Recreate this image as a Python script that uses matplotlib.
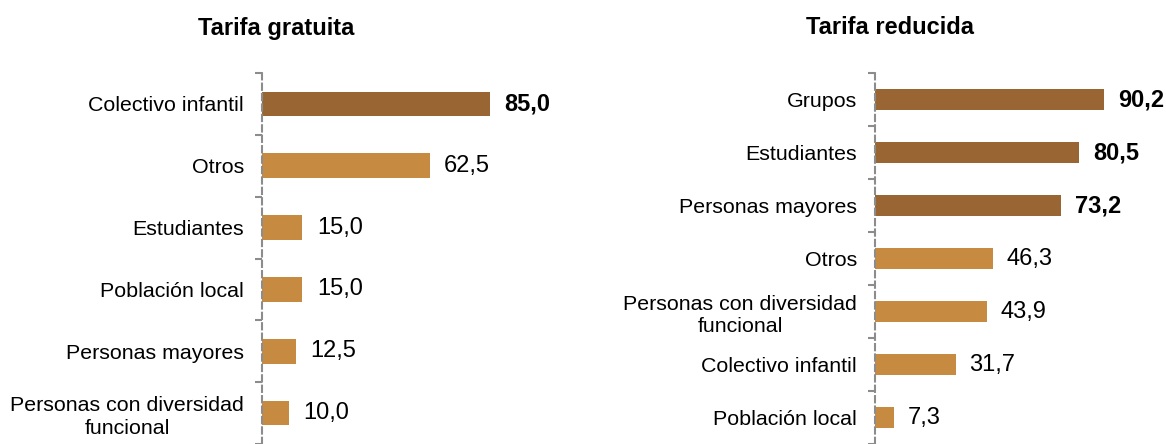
import matplotlib
matplotlib.use("Agg")
import matplotlib.pyplot as plt
import numpy as np

plt.rcParams['font.family'] = ['Liberation Sans', 'DejaVu Sans']

left_title = "Tarifa gratuita"
left_cats = ["Colectivo infantil", "Otros", "Estudiantes", "Población local",
             "Personas mayores", "Personas con diversidad\nfuncional"]
left_vals = [85.0, 62.5, 15.0, 15.0, 12.5, 10.0]
left_highlight = [True, False, False, False, False, False]

right_title = "Tarifa reducida"
right_cats = ["Grupos", "Estudiantes", "Personas mayores", "Otros",
              "Personas con diversidad\nfuncional", "Colectivo infantil", "Población local"]
right_vals = [90.2, 80.5, 73.2, 46.3, 43.9, 31.7, 7.3]
right_highlight = [True, True, True, False, False, False, False]

DARK = "#996633"
LIGHT = "#C68B41"
GREY = "#8C8C8C"

W, H = 1166, 444
fig = plt.figure(figsize=(W / 100, H / 100), dpi=100)


def panel(rect, title, cats, vals, hl, title_x):
    ax = fig.add_axes(rect)
    n = len(cats)
    y = np.arange(n)
    colors = [DARK if h else LIGHT for h in hl]
    ax.barh(y, vals, height=0.4, color=colors)
    ax.set_xlim(0, 100)
    ax.set_ylim(n - 0.5, -0.5)
    for yi, v, h in zip(y, vals, hl):
        ax.text(v + 5.5, yi, f"{v:.1f}".replace(".", ","), va="center", ha="left",
                fontsize=17, fontweight="bold" if h else "normal", color="black")
    for s in ["top", "right", "bottom"]:
        ax.spines[s].set_visible(False)
    ax.spines["left"].set_color(GREY)
    ax.spines["left"].set_linewidth(1.5)
    ax.spines["left"].set_linestyle((0, (3, 2)))
    ax.set_xticks([])
    ax.set_yticks(np.arange(n + 1) - 0.5)
    ax.set_yticklabels([])
    ax.tick_params(axis="y", which="major", length=5, width=1.5, color=GREY)
    ax.set_yticks(y, minor=True)
    ax.set_yticklabels(cats, minor=True, fontsize=15.4)
    ax.tick_params(axis="y", which="minor", length=0, pad=13)
    for lab in ax.get_yticklabels(minor=True):
        lab.set_horizontalalignment("right")
        lab.set_multialignment("center")
        lab.set_linespacing(1.25)
    ax.patch.set_alpha(0)
    fig.text(title_x / W, 1 - 28 / H, title, ha="center", va="center",
             fontsize=17, fontweight="bold")
    return ax


top = 1 - 73 / H
panel([262 / W, 0, 268 / W, top], left_title, left_cats, left_vals, left_highlight, 276)
panel([875 / W, 0, 254 / W, top], right_title, right_cats, right_vals, right_highlight, 890)

fig.savefig("out.png", dpi=100)
